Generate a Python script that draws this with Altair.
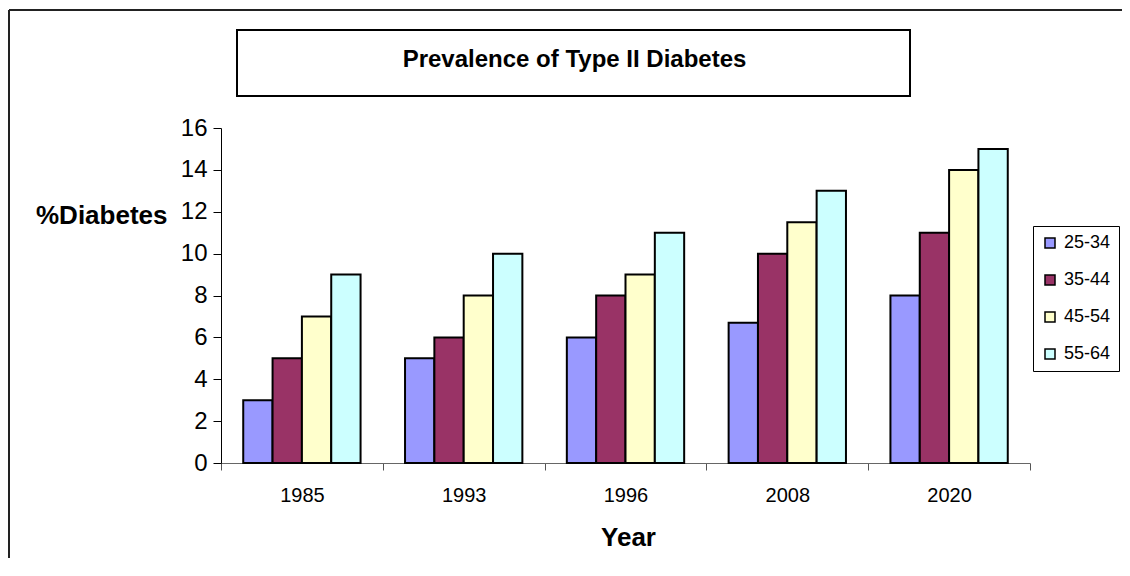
import altair as alt
import pandas as pd

years = ["1985", "1993", "1996", "2008", "2020"]
ages = ["25-34", "35-44", "45-54", "55-64"]
v_25_34 = [3, 5, 6, 6.7, 8]
v_35_44 = [5, 6, 8, 10, 11]
v_45_54 = [7, 8, 9, 11.5, 14]
v_55_64 = [9, 10, 11, 13, 15]
colors = ["#9999FF", "#993366", "#FFFFCC", "#CCFFFF"]
y_ticks = [0, 2, 4, 6, 8, 10, 12, 14, 16]
title_text = "Prevalence of Type II Diabetes"

series = [v_25_34, v_35_44, v_45_54, v_55_64]
rows = []
for a, vals in zip(ages, series):
    for yr, v in zip(years, vals):
        rows.append({"Year": yr, "Age": a, "Value": v})
df = pd.DataFrame(rows)

W, H = 809, 335
FONT = "Liberation Sans"

bars = alt.Chart(df).mark_bar(stroke="black", strokeWidth=2).encode(
    x=alt.X(
        "Year:N",
        sort=years,
        scale=alt.Scale(paddingInner=0, paddingOuter=0),
        axis=alt.Axis(
            title="Year",
            labelAngle=0,
            labelFontSize=20,
            labelFont=FONT,
            labelColor="black",
            labelPadding=15,
            tickBand="extent",
            tickSize=7,
            tickColor="#555555",
            domainColor="#666666",
            titleFont=FONT,
            titleFontSize=26,
            titleFontWeight="bold",
            titleColor="black",
            titleX=407,
            titleY=74,
            titleAlign="center",
            titleBaseline="middle",
        ),
    ),
    xOffset=alt.XOffset(
        "Age:N", sort=ages, scale=alt.Scale(paddingInner=0, paddingOuter=0.758)
    ),
    y=alt.Y(
        "Value:Q",
        scale=alt.Scale(domain=[0, 16], nice=False),
        axis=alt.Axis(
            title="%Diabetes",
            values=y_ticks,
            grid=False,
            labelFontSize=24,
            labelFont=FONT,
            labelColor="black",
            labelPadding=6,
            tickSize=8,
            tickColor="black",
            domainColor="black",
            titleFont=FONT,
            titleFontSize=26,
            titleFontWeight="bold",
            titleColor="black",
            titleAngle=0,
            titleAlign="right",
            titleBaseline="middle",
            titleX=-54,
            titleY=87,
        ),
    ),
    color=alt.Color(
        "Age:N",
        sort=ages,
        scale=alt.Scale(domain=ages, range=colors),
        legend=alt.Legend(
            title=None,
            orient="none",
            legendX=812,
            legendY=98,
            padding=8,
            strokeColor="black",
            symbolType="square",
            symbolSize=100,
            symbolStrokeColor="black",
            symbolStrokeWidth=1.5,
            symbolOpacity=1,
            labelFont=FONT,
            labelFontSize=18,
            labelColor="black",
            labelOffset=5,
            rowPadding=19,
        ),
    ),
)

one = pd.DataFrame({"k": [0]})

frame_left = alt.Chart(one).mark_rule(color="#222222", strokeWidth=2).encode(
    x=alt.value(-212), y=alt.value(-118), y2=alt.value(H + 100)
)
frame_top = alt.Chart(one).mark_rule(color="#222222", strokeWidth=2).encode(
    x=alt.value(-212), x2=alt.value(W + 100), y=alt.value(-118)
)
title_box = alt.Chart(one).mark_rect(
    fill="white", stroke="black", strokeWidth=2
).encode(
    x=alt.value(16), x2=alt.value(689), y=alt.value(-98), y2=alt.value(-32)
)
title_txt = alt.Chart(one).mark_text(
    font=FONT, fontSize=24, fontWeight="bold", color="black",
    align="center", baseline="alphabetic"
).encode(
    x=alt.value(353.5), y=alt.value(-61.5), text=alt.value(title_text)
)

chart = alt.layer(frame_left, frame_top, title_box, title_txt, bars).properties(
    width=W,
    height=H,
    autosize=alt.AutoSizeParams(type="none"),
    padding={"left": 213, "top": 120, "right": 92, "bottom": 95},
).configure(
    background="white",
    view=alt.ViewConfig(stroke="transparent", strokeWidth=0),
)

chart.save("out.html", embed_options={"renderer": "svg", "actions": False})
